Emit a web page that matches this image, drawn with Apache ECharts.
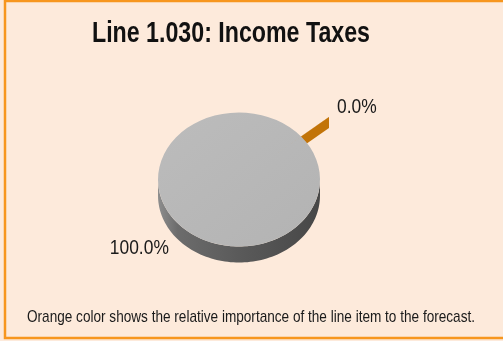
<!DOCTYPE html>
<html><head><meta charset="utf-8">
<script src="https://cdn.jsdelivr.net/npm/echarts@6/dist/echarts.min.js"></script>
<style>html,body{margin:0;padding:0;background:#FDEADB;}#c{width:503px;height:341px;}</style>
</head><body><div id="c"></div>
<script>
// ---- data ----
const titleText = 'Line 1.030: Income Taxes';
const noteText = 'Orange color shows the relative importance of the line item to the forecast.';
const categories = ['Line 1.030: Income Taxes', 'All other line items'];
const shares = [0.02, 99.98];
const explode = [0.45, 0];

// ---- styles / layout ----
const sliceTop = ['#C27409', '#B7B7B7'];
const cx = 239, cy = 179.5, rx = 81, ry = 67, depth = 16, wedgeDepth = 11;
const startDeg = 50; // clockwise from 12 o'clock
const FONT = '"Liberation Sans", Arial, sans-serif';

function measure(text, font) {
  const c = document.createElement('canvas').getContext('2d');
  c.font = font; return c.measureText(text).width;
}
const total = shares.reduce((a, b) => a + b, 0);
function ang(deg) { return (deg - 90) * Math.PI / 180; }

function renderItem(params, api) {
  const i = params.dataIndex;
  const v = api.value(0);
  let acc = startDeg;
  for (let k = 0; k < i; k++) acc += shares[k] / total * 360;
  const a0 = acc, a1 = acc + v / total * 360;
  const z0 = ang(a0), z1 = ang(a1), zm = (z0 + z1) / 2;
  const ex = explode[i];
  const ox = ex * rx * Math.cos(zm), oy = ex * ry * Math.sin(zm);
  const children = [];
  // exploded wedge: radial wall
  if (ex > 0) {
    const kOut = 1 + ex;
    const p0 = [cx + ox, cy + oy];
    const p1 = [cx + kOut * rx * Math.cos(zm), cy + kOut * ry * Math.sin(zm)];
    children.push({type: 'polygon', shape: {points: [p0, p1, [p1[0], p1[1] + wedgeDepth], [p0[0], p0[1] + wedgeDepth]]},
      style: {fill: sliceTop[i]}});
  }
  // front side wall
  const lo = Math.max(z0, 0), hi = Math.min(z1, Math.PI);
  if (hi > lo) {
    const top = [], bot = [];
    const n = 90;
    for (let s = 0; s <= n; s++) {
      const t = lo + (hi - lo) * s / n;
      const x = cx + ox + rx * Math.cos(t), y = cy + oy + ry * Math.sin(t);
      top.push([x, y]); bot.push([x, y + depth]);
    }
    children.push({type: 'polygon', shape: {points: top.concat(bot.reverse())},
      style: {fill: {type: 'linear', x: 0, y: 0, x2: 1, y2: 0, colorStops: [
        {offset: 0, color: '#8E8E8E'}, {offset: 0.12, color: '#6C6C6C'},
        {offset: 0.5, color: '#5A5A5A'}, {offset: 1, color: '#474747'}]}}});
  }
  // top face
  children.push({type: 'sector', x: cx + ox, y: cy + oy, scaleY: ry / rx,
    shape: {cx: 0, cy: 0, r: rx, r0: 0, startAngle: z0, endAngle: z1, clockwise: true},
    style: {fill: i === 1 ? {type: 'linear', x: 0, y: 0, x2: 1, y2: 1, colorStops: [
      {offset: 0, color: '#BCBCBC'}, {offset: 1, color: '#B3B3B3'}]} : sliceTop[i]}});
  // label
  const kl = 1 + ex + 0.13;
  let lx = cx + kl * rx * Math.cos(zm), ly = cy + kl * ry * Math.sin(zm);
  const front = Math.sin(zm) > 0;
  ly += front ? depth + 4 : -4;
  const right = Math.cos(zm) >= 0;
  children.push({type: 'text', x: lx, y: ly, scaleX: 0.87,
    style: {text: (v / total * 100).toFixed(1) + '%', font: '20px ' + FONT, fill: '#1A1A1A',
      align: right ? 'left' : 'right', verticalAlign: 'middle'}});
  return {type: 'group', children};
}

const titleFont = 'bold 29px ' + FONT;
const noteFont = '17px ' + FONT;
const titleScale = 278 / measure(titleText, titleFont);
const noteScale = 448 / measure(noteText, noteFont);

const chart = echarts.init(document.getElementById('c'), null, {renderer: 'canvas'});
chart.setOption({
  backgroundColor: '#FDEADB',
  animation: false,
  graphic: [
    {type: 'rect', shape: {x: 5, y: 1, width: 560, height: 337}, style: {fill: 'rgba(0,0,0,0)', stroke: '#F7961E', lineWidth: 2.5}, z: 10},
    {type: 'text', x: 231, y: 34, scaleX: titleScale, style: {text: titleText, font: titleFont, fill: '#111', align: 'center', verticalAlign: 'middle'}},
    {type: 'text', x: 251, y: 317, scaleX: noteScale, style: {text: noteText, font: noteFont, fill: '#1A1A1A', align: 'center', verticalAlign: 'middle'}}
  ],
  series: [{
    type: 'custom', coordinateSystem: 'none', name: 'Share',
    data: shares.map((v, i) => ({name: categories[i], value: [v]})),
    renderItem: renderItem
  }]
});
</script></body></html>
